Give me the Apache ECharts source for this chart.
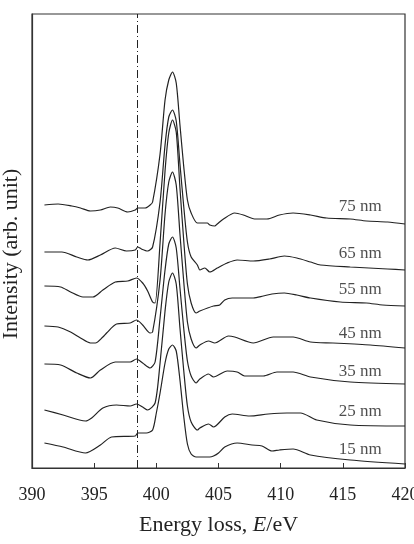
<!DOCTYPE html>
<html>
<head>
<meta charset="utf-8">
<script src="https://cdn.jsdelivr.net/npm/echarts@6/dist/echarts.min.js"></script>
<style>
  html, body { margin: 0; padding: 0; background: #fff; }
  #chart { width: 414px; height: 544px; }
</style>
</head>
<body>
<div id="chart"></div>
<script>
// spectra, [energy loss (eV), intensity (arb.)]
const s75 = [[391.0,263],[392.1,264],[393.2,262],[393.9,260],[394.7,257],[395.5,258],[396.3,261],[396.9,260],[397.7,256],[398.3,258],[398.5,260],[399.1,260],[399.5,263],[399.7,266],[400.3,314],[400.7,368],[401.0,388],[401.3,396],[401.6,385],[401.9,343],[402.2,302],[402.5,268],[402.8,255],[403.3,245],[404.1,245],[404.3,243],[404.7,242],[404.9,244],[405.4,249],[406.3,255],[407.0,253],[407.9,249],[408.9,249],[409.9,253],[411.0,255],[412.4,253],[413.7,250],[415.6,249],[416.9,247],[418.6,246],[420.0,244]]
const s65 = [[391.0,216],[392.4,216],[393.6,211],[394.5,208],[395.5,213],[396.7,220],[397.6,217],[398.3,218],[398.5,221],[398.8,219],[399.3,217],[399.7,221],[400.3,266],[400.7,323],[401.0,351],[401.3,358],[401.6,347],[401.9,304],[402.2,262],[402.5,226],[402.8,211],[403.3,203],[403.5,198],[403.9,200],[404.3,196],[404.9,200],[405.7,205],[406.5,208],[407.8,207],[409.1,209],[410.3,212],[411.3,210],[412.4,206],[413.2,203],[415.6,201],[418.6,199],[420.0,198]]
const s55 = [[391.0,182],[392.3,181],[393.1,176],[394.1,171],[394.9,171],[395.7,178],[396.7,186],[397.7,187],[398.4,190],[398.9,185],[399.3,177],[399.7,166],[399.9,165],[400.3,225],[400.7,297],[401.0,335],[401.3,348],[401.6,336],[401.9,280],[402.2,228],[402.5,184],[402.8,165],[403.2,155],[403.5,157],[404.6,162],[405.1,163],[405.5,168],[406.1,170],[407.8,170],[408.6,172],[409.3,174],[410.3,175],[411.3,173],[412.4,170],[414.8,166],[416.9,165],[418.2,163],[420.0,162]]
const s45 = [[391.0,142],[392.1,141],[393.1,136],[393.9,130],[394.7,125],[395.1,125],[395.7,131],[396.0,135],[396.8,144],[397.9,145],[398.4,148],[398.9,143],[399.5,135],[399.7,136],[400.3,188],[400.7,254],[401.0,286],[401.3,296],[401.6,283],[401.9,234],[402.2,187],[402.5,146],[402.8,129],[403.2,120],[403.5,123],[404.2,127],[404.7,125],[405.8,132],[406.3,131],[407.8,125],[409.4,131],[411.0,131],[412.4,126],[414.2,125],[417.2,123],[420.0,120]]
const s35 = [[391.0,104],[392.3,103],[393.6,95],[394.7,90],[395.5,98],[396.7,106],[397.9,106],[398.4,109],[398.9,105],[399.5,100],[399.9,106],[400.3,150],[400.7,198],[401.0,224],[401.3,231],[401.6,220],[401.9,180],[402.2,140],[402.5,107],[402.8,92],[403.2,85],[403.5,89],[404.2,94],[404.6,91],[405.7,97],[406.5,96],[407.1,92],[408.6,92],[409.7,96],[411.0,96],[412.4,91],[415.6,86],[420.0,84]]
const s25 = [[391.0,58],[392.5,53],[394.3,47],[394.8,50],[395.7,60],[396.8,63],[397.9,62],[398.4,64],[398.9,61],[399.3,58],[399.9,65],[400.3,105],[400.7,157],[401.0,186],[401.3,195],[401.6,184],[401.9,140],[402.2,98],[402.5,62],[402.8,46],[403.3,38],[403.5,40],[404.2,44],[404.6,41],[405.5,51],[406.1,54],[407.5,52],[409.0,54],[410.5,55],[411.6,55],[412.9,48],[415.6,43],[420.0,42]]
const s15 = [[391.0,25],[392.5,21],[394.3,15],[395.5,23],[396.4,31],[398.3,32],[398.5,35],[399.2,35],[399.7,38],[400.0,55],[400.3,75],[400.7,105],[401.0,119],[401.3,123],[401.6,117],[401.9,88],[402.2,52],[402.5,24],[402.8,14],[403.2,11],[403.5,11],[404.3,11],[404.6,12],[405.0,15],[405.5,21],[406.5,25],[407.7,23],[408.5,22],[409.3,17],[409.9,18],[411.0,19],[412.4,13],[415.6,8],[420.0,4]]

const thickness = ['75 nm', '65 nm', '55 nm', '45 nm', '35 nm', '25 nm', '15 nm']
const labelE = [416.4, 416.4, 416.4, 416.4, 416.4, 416.4, 416.4]
const labelI = [261, 214, 178, 134, 96, 56, 18]
const refEnergy = 398.5

const serif = '"Liberation Serif", "DejaVu Serif", serif'
const ink = '#222'

const chart = echarts.init(document.getElementById('chart'))

const curves = [s75, s65, s55, s45, s35, s25, s15].map((d, i) => ({
  type: 'line',
  name: thickness[i],
  data: d,
  showSymbol: false,
  smooth: 0.25,
  lineStyle: {color: ink, width: 1.2},
  z: 3,
}))

// dash-dot reference line
curves[0].markLine = {
  silent: true,
  symbol: 'none',
  label: {show: false},
  lineStyle: {color: ink, width: 1, type: [8, 3, 1, 3]},
  data: [{xAxis: refEnergy}],
}

const labels = {
  type: 'scatter',
  symbolSize: 0,
  data: thickness.map((t, i) => [labelE[i], labelI[i], t]),
  label: {
    show: true,
    position: 'inside',
    formatter: p => p.data[2],
    fontFamily: serif,
    fontSize: 17,
    color: ink,
  },
  silent: true,
}

chart.setOption({
  animation: false,
  grid: {
    left: 32, right: 9, top: 14, bottom: 76,
    outerBoundsMode: 'none',
    containLabel: false,
    show: true, borderColor: '#333', borderWidth: 1.2,
  },
  xAxis: {
    type: 'value',
    min: 390, max: 420, interval: 5,
    name: 'Energy loss, {i|E}/eV',
    nameLocation: 'middle',
    nameGap: 46,
    nameTextStyle: {
      fontFamily: serif, fontSize: 22, color: ink,
      rich: {i: {fontFamily: serif, fontSize: 22, color: ink, fontStyle: 'italic'}},
    },
    axisLine: {show: true, lineStyle: {color: '#333', width: 1.2}},
    axisTick: {show: true, inside: true, length: 5, lineStyle: {color: '#333'}},
    axisLabel: {fontFamily: serif, fontSize: 18, color: ink, margin: 18},
    splitLine: {show: false},
  },
  yAxis: {
    type: 'value',
    min: 0, max: 454,
    name: 'Intensity (arb. unit)',
    nameLocation: 'middle',
    nameGap: 10,
    nameTextStyle: {fontFamily: serif, fontSize: 22, color: ink, padding: [0, 26, 0, 0]},
    axisLine: {show: true, lineStyle: {color: '#333', width: 1.2}},
    axisTick: {show: false},
    axisLabel: {show: false},
    splitLine: {show: false},
  },
  series: [...curves, labels],
})
</script>
</body>
</html>
